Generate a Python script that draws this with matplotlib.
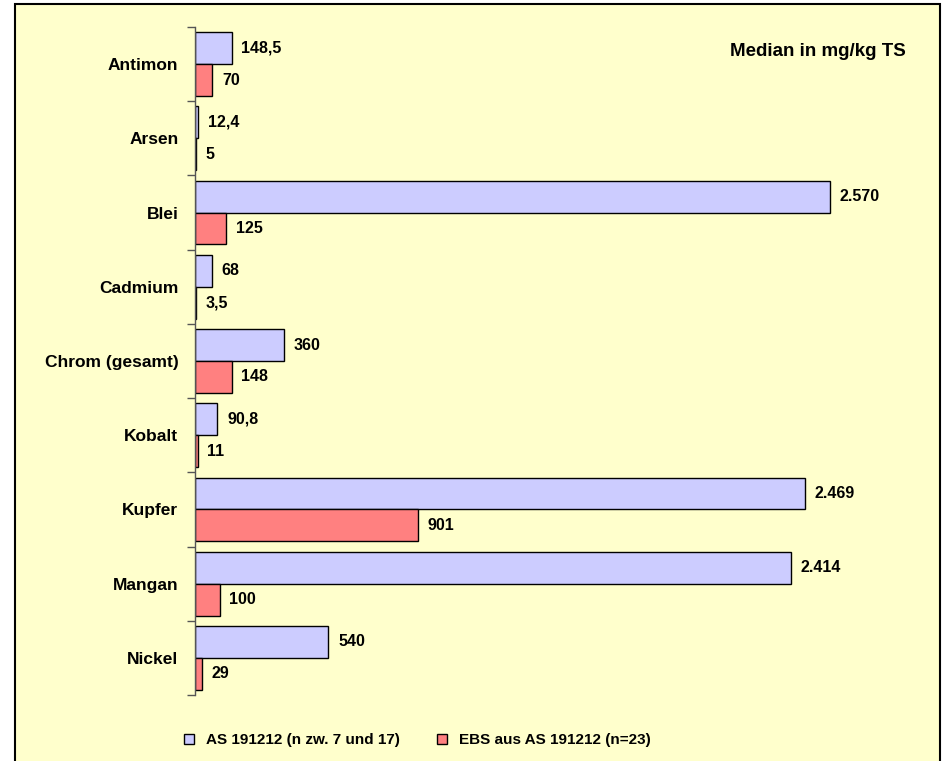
import numpy as np
import matplotlib.pyplot as plt
from matplotlib.patches import Rectangle

# --- Data ---
metals = ['Antimon', 'Arsen', 'Blei', 'Cadmium', 'Chrom (gesamt)',
          'Kobalt', 'Kupfer', 'Mangan', 'Nickel']
as_values = [148.5, 12.4, 2570, 68, 360, 90.8, 2469, 2414, 540]
ebs_values = [70, 5, 125, 3.5, 148, 11, 901, 100, 29]
as_label = 'AS 191212 (n zw. 7 und 17)'
ebs_label = 'EBS aus AS 191212 (n=23)'
unit_note = 'Median in mg/kg TS'


def fmt_de(v):
    # German number format: decimal comma, thousands dot
    if float(v).is_integer():
        return f'{int(v):,}'.replace(',', '.')
    return f'{v:,.1f}'.replace(',', 'X').replace('.', ',').replace('X', '.')


plt.rcParams['font.family'] = ['Liberation Sans', 'DejaVu Sans']
plt.rcParams['font.weight'] = 'bold'

W, H = 943, 761
fig = plt.figure(figsize=(W / 100, H / 100), dpi=100)
fig.patch.set_facecolor('white')

# yellow chart area with black border
fig.patches.append(Rectangle((15 / W, -0.02), 925 / W, 1.02 - 4 / H,
                             transform=fig.transFigure, facecolor='#FFFFCC',
                             edgecolor='black', linewidth=1.5, zorder=-10))

ax = fig.add_axes([195 / W, 66 / H, 741 / W, 668 / H])
ax.set_facecolor('none')
ax.set_zorder(5)

y = np.arange(len(metals))
bar_h = 0.43
ax.barh(y - bar_h / 2, as_values, height=bar_h, color='#CCCCFF',
        edgecolor='black', linewidth=1, label=as_label)
ax.barh(y + bar_h / 2, ebs_values, height=bar_h, color='#FF8080',
        edgecolor='black', linewidth=1, label=ebs_label)

for yi, v in zip(y, as_values):
    ax.annotate(fmt_de(v), (v, yi - bar_h / 2), xytext=(7, 0),
                textcoords='offset points', va='center', ha='left',
                fontsize=11.5, fontweight='bold')
for yi, v in zip(y, ebs_values):
    ax.annotate(fmt_de(v), (v, yi + bar_h / 2), xytext=(7, 0),
                textcoords='offset points', va='center', ha='left',
                fontsize=11.5, fontweight='bold')

ax.set_xlim(0, 3000)
ax.set_ylim(len(metals) - 0.5, -0.5)

# boundary ticks (major) and category labels (minor)
ax.set_yticks(np.arange(len(metals) + 1) - 0.5)
ax.set_yticklabels([])
ax.tick_params(axis='y', which='major', length=6, width=1, color='#555555')
ax.set_yticks(y, minor=True)
ax.set_yticklabels(metals, minor=True, fontsize=12.5, fontweight='bold')
ax.tick_params(axis='y', which='minor', length=0, pad=12)

ax.set_xticks([])
for s in ['top', 'right', 'bottom']:
    ax.spines[s].set_visible(False)
ax.spines['left'].set_color('#555555')
ax.spines['left'].set_linewidth(1)

fig.text(906 / W, 1 - 52 / H, unit_note, ha='right', va='center',
         fontsize=13.5, fontweight='bold')

fig.legend(loc='center left', bbox_to_anchor=(178 / W, 1 - 740 / H), ncol=2,
           frameon=False, handlelength=0.65, handleheight=0.65,
           handletextpad=0.8, columnspacing=2.4, borderaxespad=0,
           prop={'weight': 'bold', 'size': 11})

fig.savefig('out.png', dpi=100)
